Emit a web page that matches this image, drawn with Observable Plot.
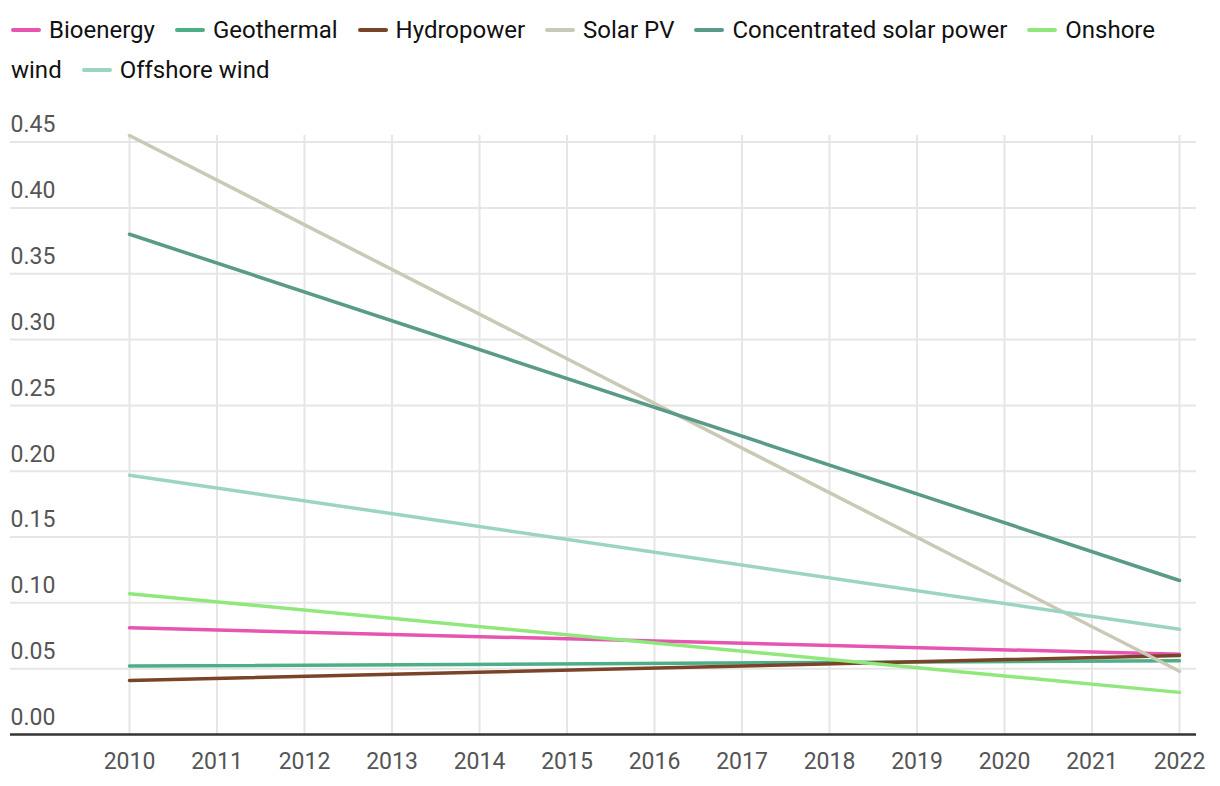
<!DOCTYPE html>
<html>
<head>
<meta charset="utf-8">
<script src="https://cdn.jsdelivr.net/npm/d3@7"></script>
<script src="https://cdn.jsdelivr.net/npm/@observablehq/plot@0.6"></script>
<style>
  html, body { margin: 0; padding: 0; background: #fff; }
  body { width: 1220px; height: 786px; overflow: hidden; font-family: Roboto, "Noto Sans", sans-serif; }
  #legend { height: 100px; box-sizing: border-box; padding-top: 10px; }
  .row { height: 40px; display: flex; align-items: center; white-space: nowrap; padding-left: 11px; }
  .item { display: inline-flex; align-items: center; margin-right: 20px; }
  .sw { display: inline-block; width: 30px; height: 4px; border-radius: 2px; margin-right: 8px; }
  .tx { display: inline-block; font-size: 24px; color: #111; }
  #chart svg { display: block; }
</style>
</head>
<body>
<div id="legend"></div>
<div id="chart"></div>
<script>
// ---- data ----
const years = [2010, 2022];
const seriesNames = ["Bioenergy", "Geothermal", "Hydropower", "Solar PV", "Concentrated solar power", "Onshore wind", "Offshore wind"];
const seriesColors = ["#e655b0", "#4caf87", "#7a4429", "#c9c9b5", "#5a9a89", "#90e87c", "#9cd4c4"];
const bioenergy = [0.081, 0.061];
const geothermal = [0.052, 0.056];
const hydropower = [0.041, 0.060];
const solarPV = [0.455, 0.048];
const concentratedSolar = [0.380, 0.117];
const onshoreWind = [0.107, 0.032];
const offshoreWind = [0.197, 0.080];
const yTicks = [0, 0.05, 0.10, 0.15, 0.20, 0.25, 0.30, 0.35, 0.40, 0.45];
const xTicks = [2010, 2011, 2012, 2013, 2014, 2015, 2016, 2017, 2018, 2019, 2020, 2021, 2022];

const seriesValues = [bioenergy, geothermal, hydropower, solarPV, concentratedSolar, onshoreWind, offshoreWind];
const data = [];
seriesNames.forEach((s, i) => years.forEach((yr, j) => data.push({series: s, year: yr, value: seriesValues[i][j]})));

// ---- legend ----
const legend = document.getElementById("legend");
const row1 = document.createElement("div"); row1.className = "row";
const row2 = document.createElement("div"); row2.className = "row";
legend.appendChild(row1); legend.appendChild(row2);
function addItem(row, color, label) {
  const item = document.createElement("span"); item.className = "item";
  if (color) { const sw = document.createElement("span"); sw.className = "sw"; sw.style.background = color; item.appendChild(sw); }
  const tx = document.createElement("span"); tx.className = "tx"; tx.textContent = label;
  item.appendChild(tx); row.appendChild(item);
}
seriesNames.forEach((s, i) => {
  if (s === "Onshore wind") { addItem(row1, seriesColors[i], "Onshore"); addItem(row2, null, "wind"); }
  else if (s === "Offshore wind") addItem(row2, seriesColors[i], s);
  else addItem(row1, seriesColors[i], s);
});

// ---- chart ----
const chart = Plot.plot({
  width: 1220,
  height: 686,
  marginTop: 35,
  marginBottom: 52,
  marginLeft: 10,
  marginRight: 24,
  style: {fontFamily: "Roboto, sans-serif", background: "transparent"},
  x: {domain: [2010, 2022], range: [129, 1179], axis: null},
  y: {domain: [0, 0.455], axis: null},
  color: {domain: seriesNames, range: seriesColors},
  marks: [
    Plot.ruleY(yTicks.slice(1), {stroke: "#e6e6e6", strokeWidth: 2}),
    Plot.ruleX(xTicks, {stroke: "#e6e6e6", strokeWidth: 2}),
    Plot.ruleY([0], {stroke: "#333", strokeWidth: 2.5}),
    Plot.line(data, {x: "year", y: "value", z: "series", stroke: "series", strokeWidth: 3.5}),
    Plot.text(yTicks, {y: d => d, frameAnchor: "left", textAnchor: "start", lineAnchor: "middle", dy: -17, text: d => d.toFixed(2), fontSize: 23, fill: "#555"}),
    Plot.text(xTicks, {x: d => d, frameAnchor: "bottom", lineAnchor: "middle", dy: 27, text: d => String(d), fontSize: 23, fill: "#555"})
  ]
});
document.getElementById("chart").appendChild(chart);
</script>
</body>
</html>
